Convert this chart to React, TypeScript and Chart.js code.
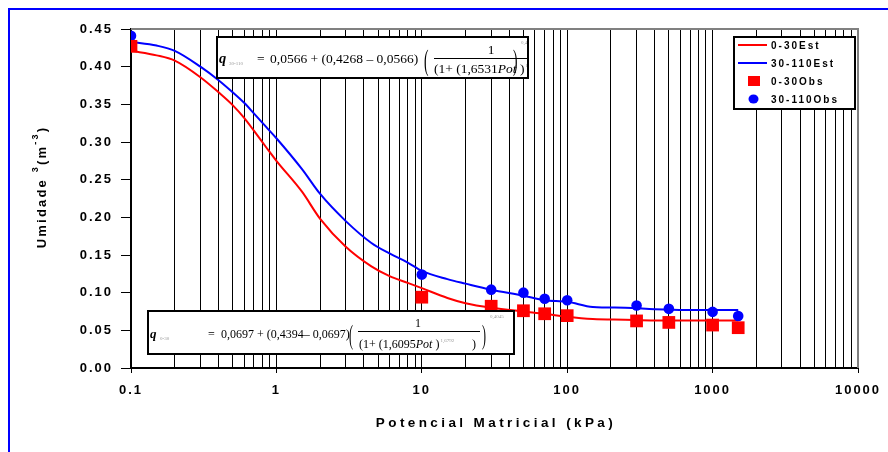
import React, { useEffect, useRef } from 'react';
import { Chart, registerables } from 'chart.js';
Chart.register(...registerables);

// ---- data ----
const potCurve = [0.1, 0.15, 0.2, 0.3, 0.4, 0.5, 0.6, 0.7, 0.85, 1, 1.5, 2, 3, 4.5, 6, 8, 10, 15, 20, 30, 50, 70, 100, 150, 250, 400, 650, 1000, 1500];
const est0_30 = [0.421, 0.415, 0.408, 0.386, 0.366, 0.349, 0.332, 0.315, 0.293, 0.275, 0.234, 0.198, 0.161, 0.135, 0.122, 0.113, 0.106, 0.093, 0.086, 0.080, 0.075, 0.072, 0.068, 0.065, 0.064, 0.063, 0.063, 0.063, 0.063];
const est30_110 = [0.433, 0.428, 0.421, 0.400, 0.382, 0.366, 0.352, 0.338, 0.320, 0.305, 0.264, 0.231, 0.195, 0.166, 0.152, 0.140, 0.129, 0.118, 0.112, 0.104, 0.096, 0.090, 0.088, 0.081, 0.080, 0.078, 0.077, 0.077, 0.077];
const potObs = [0.1, 10, 30, 50, 70, 100, 300, 500, 1000, 1500];
const obs0_30 = [0.427, 0.094, 0.082, 0.076, 0.072, 0.0695, 0.0625, 0.0605, 0.057, 0.0535];
const obs30_110 = [0.441, 0.124, 0.104, 0.100, 0.092, 0.090, 0.083, 0.0785, 0.0745, 0.069];
const seriesNames = ['0-30Est', '30-110Est', '0-30Obs', '30-110Obs'];
const xMajor = [0.1, 1, 10, 100, 1000, 10000];
const xTickLabels = ['0.1', '1', '10', '100', '1000', '10000'];
const yTicks = [0, 0.05, 0.1, 0.15, 0.2, 0.25, 0.3, 0.35, 0.4, 0.45];
const xTitle = 'Potencial Matricial (kPa)';
const yTitleParts = [
  { t: 'Umidade ', sup: false },
  { t: '3', sup: true },
  { t: '(m', sup: false },
  { t: '-3', sup: true },
  { t: ')', sup: false },
];
const eq1 = { sub: '30-110', main: '0,0566 + (0,4268 – 0,0566)', alpha: '(1+ (1,6531', n: '1,7880', m: '0,4407' };
const eq2 = { sub: '0-30', main: '0,0697 + (0,4394– 0,0697)', alpha: '(1+ (1,6095', n: '1,6792', m: '0,4045' };

const RED = '#FF0000';
const BLUE = '#0000FF';

const xGrid: number[] = [];
for (let i = 0; i < xMajor.length - 1; i++) {
  for (let k = 1; k <= 9; k++) xGrid.push(parseFloat((k * xMajor[i]).toPrecision(6)));
}
xGrid.push(xMajor[xMajor.length - 1]);
const isMajor = (v: number) => xMajor.some((m) => Math.abs(m - v) / m < 1e-6);

function txt(ctx: CanvasRenderingContext2D, s: string, x: number, y: number, font: string, color = '#000', align: CanvasTextAlign = 'left') {
  ctx.font = font;
  ctx.fillStyle = color;
  ctx.textAlign = align;
  ctx.fillText(s, x, y);
  return ctx.measureText(s).width;
}

function bigParen(ctx: CanvasRenderingContext2D, ch: string, x: number, base: number, sy: number, size: number) {
  ctx.save();
  ctx.translate(x, base);
  ctx.scale(1, sy);
  txt(ctx, ch, 0, 0, `${size}px "Liberation Serif"`);
  ctx.restore();
}

function drawEq(ctx: CanvasRenderingContext2D, e: any, L: any) {
  ctx.save();
  ctx.fillStyle = '#fff';
  ctx.fillRect(L.x, L.y, L.w, L.h);
  ctx.beginPath();
  ctx.rect(L.x, L.y, L.w, L.h);
  ctx.clip();
  (ctx as any).letterSpacing = '0px';
  ctx.textBaseline = 'alphabetic';
  const f = `${L.fs}px "Liberation Serif"`;
  const fi = `italic ${L.fs}px "Liberation Serif"`;
  const tiny = '5px "Liberation Serif"';
  txt(ctx, 'q', L.x + 2, L.base, `italic bold ${L.fs + 1}px "Liberation Serif"`);
  txt(ctx, e.sub, L.x + 12, L.base + 2, tiny, '#999');
  txt(ctx, '=', L.eqX, L.base, f);
  txt(ctx, e.main, L.mainX, L.base, f);
  bigParen(ctx, '(', L.lpX, L.parBase, 2.2, L.fs);
  txt(ctx, '1', L.numX, L.numBase, f, '#000', 'center');
  ctx.strokeStyle = '#000';
  ctx.lineWidth = 1.2;
  ctx.beginPath();
  ctx.moveTo(L.barX0, L.barY);
  ctx.lineTo(L.barX1, L.barY);
  ctx.stroke();
  let x = L.denX;
  x += txt(ctx, e.alpha, x, L.denBase, f);
  x += txt(ctx, 'Pot', x, L.denBase, fi);
  x += txt(ctx, ' )', x, L.denBase, f);
  txt(ctx, e.n, x + 1, L.denBase - 6, tiny, '#999');
  txt(ctx, ')', L.closeX, L.denBase, f);
  bigParen(ctx, ')', L.rpX, L.parBase, 2.2, L.fs);
  txt(ctx, e.m, L.rpX + 8, L.y + 7, tiny, '#999');
  ctx.restore();
  ctx.save();
  ctx.strokeStyle = '#000';
  ctx.lineWidth = 2;
  ctx.strokeRect(L.x, L.y, L.w, L.h);
  ctx.restore();
}

const overlay = {
  id: 'overlay',
  beforeDraw(chart: any) {
    const ctx = chart.ctx as CanvasRenderingContext2D;
    ctx.save();
    ctx.fillStyle = '#fff';
    ctx.fillRect(0, 0, chart.width, chart.height);
    ctx.strokeStyle = BLUE;
    ctx.lineWidth = 2;
    ctx.beginPath();
    ctx.moveTo(9, chart.height + 5);
    ctx.lineTo(9, 9);
    ctx.lineTo(chart.width + 5, 9);
    ctx.stroke();
    ctx.restore();
    (ctx as any).letterSpacing = '2px';
  },
  beforeDatasetsDraw(chart: any) {
    const ctx = chart.ctx as CanvasRenderingContext2D;
    const a = chart.chartArea;
    ctx.save();
    ctx.strokeStyle = '#808080';
    ctx.lineWidth = 2;
    ctx.beginPath();
    ctx.moveTo(a.left, a.top);
    ctx.lineTo(a.right, a.top);
    ctx.lineTo(a.right, a.bottom);
    ctx.stroke();
    ctx.restore();
  },
  afterDraw(chart: any) {
    const ctx = chart.ctx as CanvasRenderingContext2D;
    drawEq(ctx, eq1, {
      x: 217, y: 37, w: 311, h: 41, fs: 13.5, base: 63, eqX: 257, mainX: 270,
      lpX: 424, parBase: 70, numX: 491, numBase: 54, barX0: 434, barX1: 540, barY: 58.5,
      denX: 434, denBase: 73, closeX: 540, rpX: 513,
    });
    drawEq(ctx, eq2, {
      x: 148, y: 311, w: 366, h: 43, fs: 12, base: 338, eqX: 208, mainX: 221,
      lpX: 349, parBase: 344, numX: 418, numBase: 327, barX0: 358, barX1: 480, barY: 331.5,
      denX: 359, denBase: 348, closeX: 472, rpX: 482,
    });

    // legend
    ctx.save();
    ctx.fillStyle = '#fff';
    ctx.fillRect(734, 37, 121, 72);
    ctx.strokeStyle = '#000';
    ctx.lineWidth = 2;
    ctx.strokeRect(734, 37, 121, 72);
    const rows = [45, 63, 81, 99];
    const cols = [RED, BLUE, RED, BLUE];
    rows.forEach((ry, i) => {
      ctx.fillStyle = cols[i];
      ctx.strokeStyle = cols[i];
      if (i < 2) {
        ctx.lineWidth = 2;
        ctx.beginPath();
        ctx.moveTo(738, ry);
        ctx.lineTo(767, ry);
        ctx.stroke();
      } else if (i === 2) {
        ctx.fillRect(748, ry - 5, 12, 10);
      } else {
        ctx.beginPath();
        ctx.ellipse(753.5, ry, 5, 4.5, 0, 0, Math.PI * 2);
        ctx.fill();
      }
      (ctx as any).letterSpacing = '2px';
      ctx.textBaseline = 'middle';
      txt(ctx, seriesNames[i], 771, ry + 1, 'bold 10px "Liberation Sans"');
    });
    ctx.restore();

    // axis titles
    ctx.save();
    (ctx as any).letterSpacing = '3.4px';
    ctx.textBaseline = 'middle';
    txt(ctx, xTitle, 496, 423, 'bold 13.5px "Liberation Sans"', '#000', 'center');
    ctx.translate(42, 187);
    ctx.rotate(-Math.PI / 2);
    (ctx as any).letterSpacing = '2.2px';
    let total = 0;
    const fBig = 'bold 13px "Liberation Sans"';
    const fSmall = 'bold 9px "Liberation Sans"';
    yTitleParts.forEach((p) => {
      ctx.font = p.sup ? fSmall : fBig;
      total += ctx.measureText(p.t).width;
    });
    let x = -total / 2;
    yTitleParts.forEach((p) => {
      x += txt(ctx, p.t, x, p.sup ? -6 : 0, p.sup ? fSmall : fBig);
    });
    ctx.restore();
  },
};

export default function App() {
  const ref = useRef<HTMLCanvasElement | null>(null);
  useEffect(() => {
    if (!ref.current) return;
    const tickFont = { family: '"Liberation Sans"', weight: 'bold' as const, size: 13 };
    const chart = new Chart(ref.current, {
      type: 'scatter',
      data: {
        datasets: [
          {
            label: seriesNames[2],
            data: potObs.map((x, i) => ({ x, y: obs0_30[i] })),
            pointStyle: 'rect',
            pointRadius: 9,
            backgroundColor: RED,
            borderColor: RED,
            borderWidth: 0,
            showLine: false,
            order: 0,
          },
          {
            label: seriesNames[3],
            data: potObs.map((x, i) => ({ x, y: obs30_110[i] })),
            pointStyle: 'circle',
            pointRadius: 5.3,
            backgroundColor: BLUE,
            borderColor: BLUE,
            borderWidth: 0,
            showLine: false,
            order: 0,
          },
          {
            label: seriesNames[0],
            data: potCurve.map((x, i) => ({ x, y: est0_30[i] })),
            showLine: true,
            borderColor: RED,
            backgroundColor: RED,
            borderWidth: 2,
            pointRadius: 0,
            cubicInterpolationMode: 'monotone',
            order: 1,
          },
          {
            label: seriesNames[1],
            data: potCurve.map((x, i) => ({ x, y: est30_110[i] })),
            showLine: true,
            borderColor: BLUE,
            backgroundColor: BLUE,
            borderWidth: 2,
            pointRadius: 0,
            cubicInterpolationMode: 'monotone',
            order: 1,
          },
        ],
      },
      options: {
        animation: false,
        responsive: false,
        devicePixelRatio: 1,
        layout: { padding: { left: 0, right: 30, top: 29, bottom: 0 } },
        plugins: { legend: { display: false }, tooltip: { enabled: false } },
        scales: {
          x: {
            type: 'logarithmic',
            min: 0.1,
            max: 10000,
            afterBuildTicks: (s: any) => {
              s.ticks = xGrid.map((v) => ({ value: v, major: isMajor(v) }));
            },
            afterFit: (s: any) => {
              s.height = 84;
            },
            ticks: {
              autoSkip: false,
              maxRotation: 0,
              minRotation: 0,
              color: '#000',
              font: tickFont,
              padding: 10,
              callback: (v: any) => {
                const i = xMajor.findIndex((m) => Math.abs(m - v) / m < 1e-6);
                return i >= 0 ? xTickLabels[i] : '';
              },
            },
            grid: {
              color: (c: any) => (c.tick && c.tick.value >= 10000 ? 'rgba(0,0,0,0)' : '#000'),
              lineWidth: 1,
              tickLength: 5,
              tickColor: (c: any) => (c.tick && isMajor(c.tick.value) ? '#000' : 'rgba(0,0,0,0)'),
            },
            border: { color: '#000', width: 2 },
          },
          y: {
            min: 0,
            max: 0.45,
            afterBuildTicks: (s: any) => {
              s.ticks = yTicks.map((v) => ({ value: v }));
            },
            afterFit: (s: any) => {
              s.width = 131;
            },
            ticks: {
              color: '#000',
              font: tickFont,
              padding: 8,
              callback: (v: any) => Number(v).toFixed(2),
            },
            grid: { drawOnChartArea: false, tickLength: 10, tickColor: '#000', lineWidth: 1 },
            border: { color: '#000', width: 2 },
          },
        },
      },
      plugins: [overlay],
    });
    return () => chart.destroy();
  }, []);
  return (
    <div style={{ position: 'fixed', left: 0, top: 0, width: 888, height: 452, background: '#fff' }}>
      <canvas ref={ref} width={888} height={452} style={{ display: 'block' }} />
    </div>
  );
}
